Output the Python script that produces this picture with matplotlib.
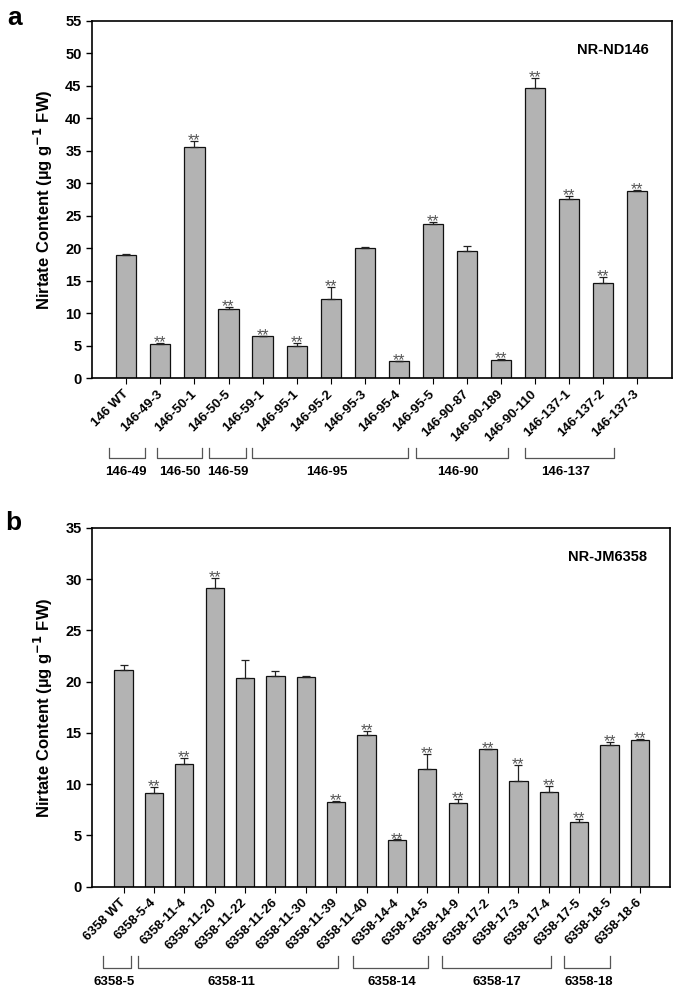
import numpy as np
import matplotlib
matplotlib.use("Agg")
import matplotlib.pyplot as plt
from matplotlib.transforms import blended_transform_factory

plt.rcParams['font.family'] = ['Liberation Sans', 'DejaVu Sans']
plt.rcParams['font.weight'] = 'bold'

# PANEL A DATA (NR-ND146)
lines_a = ["146 WT", "146-49-3", "146-50-1", "146-50-5", "146-59-1", "146-95-1",
           "146-95-2", "146-95-3", "146-95-4", "146-95-5", "146-90-87", "146-90-189",
           "146-90-110", "146-137-1", "146-137-2", "146-137-3"]
means_a = [18.9, 5.3, 35.6, 10.6, 6.4, 4.9, 12.2, 20.0, 2.6, 23.7, 19.6, 2.85,
           44.7, 27.5, 14.6, 28.8]
errs_a = [0.2, 0.15, 0.9, 0.3, 0.1, 0.5, 1.8, 0.25, 0.1, 0.4, 0.8, 0.1,
          1.5, 0.6, 0.9, 0.1]
sig_a = [False, True, True, True, True, True, True, False, True, True, False, True,
         True, True, True, True]
groups_a = ["146-49", "146-50", "146-59", "146-95", "146-90", "146-137"]

# PANEL B DATA (NR-JM6358)
lines_b = ["6358 WT", "6358-5-4", "6358-11-4", "6358-11-20", "6358-11-22", "6358-11-26",
           "6358-11-30", "6358-11-39", "6358-11-40", "6358-14-4", "6358-14-5", "6358-14-9",
           "6358-17-2", "6358-17-3", "6358-17-4", "6358-17-5", "6358-18-5", "6358-18-6"]
means_b = [21.13, 9.16, 12.0, 29.15, 20.39, 20.58, 20.42, 8.25, 14.85, 4.56, 11.49, 8.19,
           13.4, 10.32, 9.22, 6.34, 13.82, 14.34]
errs_b = [0.55, 0.58, 0.6, 1.0, 1.7, 0.42, 0.1, 0.13, 0.35, 0.05, 1.5, 0.35,
          0.06, 1.6, 0.62, 0.29, 0.26, 0.09]
sig_b = [False, True, True, True, False, False, False, True, True, True, True, True,
         True, True, True, True, True, True]
groups_b = ["6358-5", "6358-11", "6358-14", "6358-17", "6358-18"]

# bracket layout (bar-index units) and label positions
spans_a = [(-0.50, 0.56), (0.90, 2.22), (2.44, 3.50), (3.69, 8.26), (8.50, 11.20), (11.70, 14.32)]
labx_a = [-0.02, 1.56, 2.97, 5.9, 9.75, 12.9]
spans_b = [(-0.68, 0.24), (0.49, 7.07), (7.55, 10.03), (10.47, 14.06), (14.49, 16.02)]
labx_b = [-0.31, 3.55, 8.84, 12.3, 15.33]


def draw_panel(ax, lines, means, errs, sig, ymax, width, xlim, tag,
               groups, spans, labx, yb):
    x = np.arange(len(lines))
    ax.bar(x, means, width=width, color='#b3b3b3', edgecolor='#111111',
           linewidth=0.9, zorder=2)
    ax.errorbar(x, means, yerr=[np.zeros(len(errs)), errs], fmt='none',
                ecolor='#222222', elinewidth=0.9, capsize=3, capthick=0.9, zorder=3)
    for xi, m, e, s in zip(x, means, errs, sig):
        if s:
            ax.annotate("**", (xi, m + e), xytext=(0, -3), textcoords='offset points',
                        ha='center', va='baseline', fontsize=11.5, fontweight='normal',
                        color='#555555')

    ax.set_xlim(*xlim)
    ax.set_ylim(0, ymax)
    ax.set_yticks(np.arange(0, ymax + 1, 5))
    ax.set_xticks(x)
    ax.set_xticklabels(lines, rotation=45, ha='right', va='center',
                       rotation_mode='anchor', fontsize=9.5, fontweight='bold')
    ax.tick_params(axis='y', labelsize=10.5, length=4, width=1, direction='out')
    ax.tick_params(axis='x', length=4, width=0.8, direction='out', pad=6)
    for sp in ax.spines.values():
        sp.set_linewidth(1.2)
    ax.set_ylabel(r'Nirtate Content (µg g$^{\mathbf{-1}}$ FW)', fontsize=12,
                  fontweight='bold', labelpad=7)
    ax.text(0.96, 0.918, tag, transform=ax.transAxes, ha='right', va='center',
            fontsize=10.5, fontweight='bold')

    # group brackets below tick labels
    trans = blended_transform_factory(ax.transData, ax.transAxes)
    for name, (x0, x1), lx in zip(groups, spans, labx):
        ax.plot([x0, x0, x1, x1], [yb[0], yb[1], yb[1], yb[0]], transform=trans,
                clip_on=False, color='#555555', lw=0.9)
        ax.text(lx, yb[2], name, transform=trans, ha='center', va='center',
                fontsize=9.5, fontweight='bold')


fig = plt.figure(figsize=(6.78, 9.93), dpi=100)
ax_a = fig.add_axes([0.1357, 0.6193, 0.9912 - 0.1357, 0.9789 - 0.6193])
ax_b = fig.add_axes([0.1357, 0.1070, 0.9882 - 0.1357, 0.4683 - 0.1070])

draw_panel(ax_a, lines_a, means_a, errs_a, sig_a, 55, 0.59, (-1.01, 16.03), "NR-ND146",
           groups_a, spans_a, labx_a, (-0.196, -0.224, -0.262))
draw_panel(ax_b, lines_b, means_b, errs_b, sig_b, 35, 0.6, (-1.04, 17.99), "NR-JM6358",
           groups_b, spans_b, labx_b, (-0.194, -0.2275, -0.266))

# panel letters
fig.text(0.011, 0.975, "a", fontsize=19, fontweight='bold', ha='left', va='baseline')
fig.text(0.007, 0.466, "b", fontsize=19, fontweight='bold', ha='left', va='baseline')

fig.savefig("out.png", dpi=100)
